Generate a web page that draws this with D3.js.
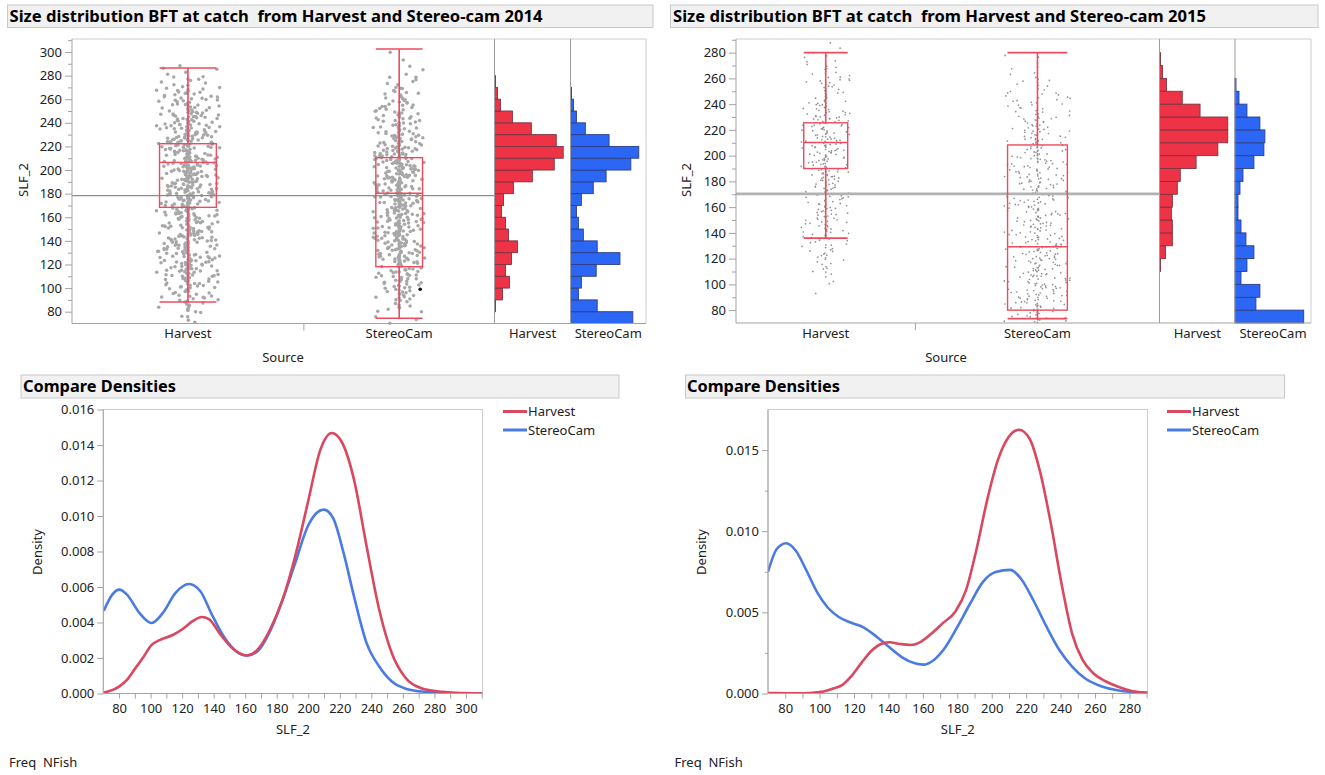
<!DOCTYPE html>
<html><head><meta charset="utf-8">
<script src="https://cdn.jsdelivr.net/npm/d3@7"></script>
<style>
body{margin:0;background:#fff;}
text{font-family:"Noto Sans","Open Sans",sans-serif;}
</style></head><body>
<svg id="c" width="1325" height="775"></svg>
<script>
// ---------------- DATA ----------------
const categories = ["Harvest", "StereoCam"];

// tick labels
const yTicks2014 = [80,100,120,140,160,180,200,220,240,260,280,300];
const yTicks2015 = [80,100,120,140,160,180,200,220,240,260,280];
const densXTicks2014 = [80,100,120,140,160,180,200,220,240,260,280,300];
const densXTicks2015 = [80,100,120,140,160,180,200,220,240,260,280];
const densYTicks2014 = [0,0.002,0.004,0.006,0.008,0.010,0.012,0.014,0.016];
const densYTicks2015 = [0,0.005,0.010,0.015];

// histogram bins (lower edge, width 10)
const binLow2014 = [70,80,90,100,110,120,130,140,150,160,170,180,190,200,210,220,230,240,250,260,270,280,290];
const binLow2015 = [70,80,90,100,110,120,130,140,150,160,170,180,190,200,210,220,230,240,250,260,270,280];

// weighted histogram counts (Freq NFish)
const histHarvest2014 = [0,1,8,15,11,17,23,14,11,7,9,19,38,60,69,62,37,18,6,3,1,0,0];
const histStereo2014  = [63,27,8,11,26,50,27,13,8,6,11,23,36,61,69,39,15,6,3,1,0,0,0];
const histHarvest2015 = [0,0,0,0,1,6,13,13,12,13,18,21,37,59,69,69,41,23,7,3,1,0];
const histStereo2015  = [69,21,25,6,12,19,11,6,3,3,5,8,19,29,30,25,12,4,1,0,0,0];

// number of jittered records per bin
const dotsHarvest2014 = [5,12,18,26,35,35,35,35,35,35,40,40,40,40,40,40,35,30,24,20,10,5,0];
const dotsStereo2014  = [4,9,16,20,22,30,32,32,32,32,36,38,38,38,33,28,23,20,16,11,7,3,2];
const dotsHarvest2015 = [0,0,1,5,9,12,15,18,20,22,23,25,26,27,27,25,23,20,16,11,6,2];
const dotsStereo2015  = [20,28,28,28,28,28,25,25,25,25,25,25,25,25,22,20,18,15,10,5,3,0];

// box plot stats: [lowerWhisker, q1, median, q3, upperWhisker]
const boxHarvest2014 = [88.2, 168.4, 206.5, 222.3, 286.4];
const boxStereo2014  = [74.4, 118.1, 180.3, 210.5, 302.5];
const boxHarvest2015 = [135.9, 190, 210.2, 225.5, 280];
const boxStereo2015  = [73.4, 80, 129.2, 208.3, 280];
const grandMean2014 = 178.3;
const grandMean2015 = 170.3;
const outlierStereo2014 = [99];

// density curves [SLF_2, density]
const densHarvest2014 = [[70.5,0.00005],[80,0.00039],[85,0.00077],[90.4,0.00143],[95.7,0.00209],[100.5,0.00272],[106.4,0.00304],[114.4,0.00331],[121,0.00368],[126.4,0.00406],[132.5,0.00431],[137,0.00419],[143.7,0.0034],[151.7,0.00256],[161,0.00214],[167.7,0.00246],[175.7,0.00359],[183.7,0.00528],[191.7,0.00773],[199.7,0.01074],[207.7,0.01374],[214.9,0.01468],[221,0.01421],[229,0.01205],[237,0.00829],[245,0.00472],[253,0.00227],[261,0.00096],[271.7,0.0003],[285,0.00009],[298,0.00002],[310.5,0]];
const densStereo2014 = [[70.3,0.00466],[75.7,0.00557],[80.3,0.00585],[85,0.00557],[93,0.00453],[100.5,0.00397],[107.7,0.00453],[115.7,0.00566],[124.3,0.00617],[131.7,0.00575],[138.4,0.00453],[146.4,0.00321],[154.4,0.00237],[161,0.00214],[167.7,0.00237],[175.7,0.0035],[183.7,0.00528],[191.7,0.00735],[199.7,0.00942],[209.9,0.01036],[215.7,0.00989],[222.4,0.00792],[229,0.00547],[237,0.00284],[245,0.00152],[253,0.00068],[261,0.0003],[271.7,0.00011],[285,0.00004],[310.5,0]];
const densHarvest2015 = [[70,0.00003],[81,0.00002],[91,0.00001],[101,0.0001],[108.4,0.00033],[113.3,0.00053],[118.3,0.00105],[124.4,0.0019],[130.6,0.00268],[135.6,0.00305],[140.5,0.00316],[146.7,0.00305],[152.8,0.00299],[159,0.0032],[165.2,0.00371],[171.4,0.00432],[178.8,0.00504],[185,0.00635],[191,0.00881],[197.3,0.0119],[203.5,0.01436],[209.6,0.01578],[215.8,0.01625],[222,0.0157],[228,0.0137],[234.3,0.0105],[240.5,0.0068],[246.7,0.00369],[252.8,0.00207],[259,0.00125],[266.4,0.00074],[273.8,0.0004],[281.2,0.00016],[290.5,0.00004]];
const densStereo2015 = [[70,0.0075],[75,0.00889],[80.5,0.00926],[86.2,0.0088],[92.3,0.00758],[98.5,0.00625],[104.7,0.0053],[110.9,0.00473],[118.3,0.00436],[125.7,0.00406],[133.1,0.0035],[140.5,0.00285],[147.9,0.00223],[155.3,0.00186],[160.2,0.00178],[166.4,0.00207],[172.6,0.00279],[180,0.0041],[187.4,0.00553],[194.8,0.00686],[202.2,0.00748],[210.9,0.00762],[217,0.00707],[224.4,0.0057],[231.9,0.0041],[239.3,0.00268],[246.7,0.00166],[254.1,0.00094],[264,0.00043],[273.8,0.00018],[290.5,0.00004]];

// ---------------- STYLE / LAYOUT ----------------
const RED_BOX = "#ef4a5e", RED_FILL = "#ee3347", RED_STROKE = "#7a3440";
const BLUE_FILL = "#2c66f4", BLUE_STROKE = "#2e3f88";
const RED_LINE = "#d9485e", BLUE_LINE = "#4b7be2";
const AXIS = "#a3a3a3", FRAME = "#cdcdcd", TXT = "#222";

const svg = d3.select("#c");

// deterministic jitter hash (layout only)
function hash(n){ const v = Math.sin(n*12.9898 + 78.233)*43758.5453; return v - Math.floor(v); }

function axisStyle(g){
  g.select(".domain").remove();
  g.selectAll(".tick line").attr("stroke", AXIS);
  g.selectAll(".tick text").attr("fill", TXT).style("font-size","13px")
   .style("font-family",'"Noto Sans","Open Sans",sans-serif');
}

function titleBar(x, y, w, h, label, tx, ty, tlen, size){
  svg.append("rect").attr("x",x).attr("y",y).attr("width",w).attr("height",h)
    .attr("fill","#f1f1f1").attr("stroke","#c9c9c9");
  svg.append("text").attr("x",tx).attr("y",ty).text(label)
    .style("font-weight","bold").style("font-size",size+"px").style("white-space","pre")
    .attr("textLength",tlen).attr("lengthAdjust","spacingAndGlyphs").attr("fill","#000");
}

function drawTop(cfg){
  titleBar(cfg.tb[0],cfg.tb[1],cfg.tb[2],cfg.tb[3],cfg.title,cfg.tx,22,533,15.5);
  const y = d3.scaleLinear().domain(cfg.yDomain).range([cfg.y1, cfg.y0]);

  // bands proportional to number of records
  const totals = cfg.dots.map(d => d3.sum(d));
  const cum = d3.cumsum([0, ...totals]);
  const bx = d3.scaleLinear().domain([0, cum[cum.length-1]]).range([cfg.x0, cfg.x1]);

  // frame
  svg.append("line").attr("x1",cfg.x0).attr("x2",cfg.h2).attr("y1",cfg.y0).attr("y2",cfg.y0).attr("stroke",FRAME);
  svg.append("line").attr("x1",cfg.h2).attr("x2",cfg.h2).attr("y1",cfg.y0).attr("y2",cfg.y1).attr("stroke",FRAME);

  const gDots = svg.append("g");
  const gMean = svg.append("g");
  const gBox = svg.append("g");
  let gi = cfg.seed;
  categories.forEach((cat, i) => {
    const left = bx(cum[i]), right = bx(cum[i+1]);
    const cx = (left + right)/2, bw = right - left;
    const boxW = bw*0.245, halfJ = boxW*0.56;
    // jittered records
    cfg.dots[i].forEach((c, k) => {
      const lo = cfg.bins[k];
      for (let j = 0; j < c; j++){
        gi++;
        const v = lo + 10*(j + hash(gi*3.1))/c;
        const s = 2*hash(gi) - 1;
        const dx = Math.sign(s)*Math.pow(Math.abs(s),2.1)*halfJ;
        gDots.append("circle").attr("cx", cx+dx).attr("cy", y(v)).attr("r", cfg.dotR).attr("fill", cfg.dotC);
      }
    });
    const b = cfg.box[i];
    const L = cx - boxW/2, R = cx + boxW/2;
    gBox.append("rect").attr("x",L).attr("y",y(b[3])).attr("width",boxW).attr("height",y(b[1])-y(b[3]))
      .attr("fill","none").attr("stroke",RED_BOX).attr("stroke-width",1.4);
    gBox.append("line").attr("x1",L).attr("x2",R).attr("y1",y(b[2])).attr("y2",y(b[2])).attr("stroke",RED_BOX).attr("stroke-width",1.4);
    [[b[0],b[1]],[b[3],b[4]]].forEach(p => gBox.append("line").attr("x1",cx).attr("x2",cx)
      .attr("y1",y(p[0])).attr("y2",y(p[1])).attr("stroke",RED_BOX).attr("stroke-width",1.6));
    [b[0],b[4]].forEach(v => gBox.append("line").attr("x1",L).attr("x2",R).attr("y1",y(v)).attr("y2",y(v))
      .attr("stroke",RED_BOX).attr("stroke-width",1.6));
    // category label
    svg.append("text").attr("x",cx).attr("y",338).attr("text-anchor","middle").text(cat)
      .style("font-size","13px").attr("fill",TXT);
    if (i === 0) {
      svg.append("line").attr("x1",right).attr("x2",right).attr("y1",cfg.y1).attr("y2",cfg.y1+7).attr("stroke",AXIS);
    }
    if (cfg.outlier && i === 1) {
      cfg.outlier.forEach(v => gBox.append("circle").attr("cx", cx + boxW*0.45).attr("cy", y(v)).attr("r",1.8).attr("fill","#111"));
    }
  });
  // grand mean line
  gMean.append("line").attr("x1",cfg.x0).attr("x2",cfg.x1).attr("y1",y(cfg.mean)).attr("y2",y(cfg.mean))
    .attr("stroke",cfg.meanC).attr("stroke-width",cfg.meanW);

  // histograms
  const panels = [[cfg.x1, cfg.h1, cfg.hist[0], RED_FILL, RED_STROKE], [cfg.h1, cfg.h2, cfg.hist[1], BLUE_FILL, BLUE_STROKE]];
  panels.forEach((p, i) => {
    const xs = d3.scaleLinear().domain([0, d3.max(p[2])/0.904]).range([p[0], p[1]]);
    svg.append("g").selectAll("rect").data(p[2].map((c,k)=>({c, lo: cfg.bins[k]})).filter(d=>d.c>0))
      .join("rect").attr("x", p[0]).attr("y", d => y(d.lo+10)).attr("width", d => xs(d.c)-p[0])
      .attr("height", d => y(d.lo)-y(d.lo+10)).attr("fill", p[3]).attr("stroke", p[4]).attr("stroke-width",0.9);
    svg.append("text").attr("x",(p[0]+p[1])/2).attr("y",338).attr("text-anchor","middle").text(categories[i])
      .style("font-size","13px").attr("fill",TXT);
  });
  // separators + axes lines
  [cfg.x1, cfg.h1].forEach(x => svg.append("line").attr("x1",x).attr("x2",x).attr("y1",cfg.y0).attr("y2",cfg.y1).attr("stroke","#9d9d9d"));
  svg.append("line").attr("x1",cfg.x0).attr("x2",cfg.x0).attr("y1",cfg.y0).attr("y2",cfg.y1).attr("stroke",AXIS);
  svg.append("line").attr("x1",cfg.x0).attr("x2",cfg.h2).attr("y1",cfg.y1).attr("y2",cfg.y1).attr("stroke",AXIS);

  // y axis
  svg.append("g").attr("transform",`translate(${cfg.x0},0)`)
    .call(d3.axisLeft(y).tickValues(cfg.yTicks).tickSize(7).tickPadding(3)).call(axisStyle);
  const minor = cfg.yTicks.map(t => t + 10).filter(t => t < cfg.yDomain[1]);
  svg.append("g").attr("transform",`translate(${cfg.x0},0)`)
    .call(d3.axisLeft(y).tickValues(minor).tickSize(4).tickFormat("")).call(axisStyle);

  svg.append("text").attr("transform",`translate(${cfg.ylx},180) rotate(-90)`).attr("text-anchor","middle")
    .text("SLF_2").style("font-size","13px").attr("fill",TXT);
  svg.append("text").attr("x",cfg.srcX).attr("y",362).attr("text-anchor","middle").text("Source")
    .style("font-size","13px").attr("fill",TXT);
}

function drawDensity(cfg){
  titleBar(cfg.tb[0],375,cfg.tb[1],23,"Compare Densities",cfg.tx,392,153,15.5);
  const x = d3.scaleLinear().domain(cfg.xDomain).range([cfg.x0, cfg.x1]);
  const y = d3.scaleLinear().domain(cfg.yDomain).range([cfg.y1, cfg.y0]);
  svg.append("rect").attr("x",cfg.x0).attr("y",cfg.y0).attr("width",cfg.x1-cfg.x0).attr("height",cfg.y1-cfg.y0)
    .attr("fill","none").attr("stroke",FRAME);
  const clipId = "clip" + cfg.id;
  svg.append("clipPath").attr("id",clipId).append("rect").attr("x",cfg.x0).attr("y",cfg.y0-3)
    .attr("width",cfg.x1-cfg.x0).attr("height",cfg.y1-cfg.y0+3);
  const line = d3.line().x(d=>x(d[0])).y(d=>y(d[1])).curve(d3.curveMonotoneX);
  const gl = svg.append("g").attr("clip-path",`url(#${clipId})`);
  gl.append("path").attr("d", line(cfg.dens[1])).attr("fill","none").attr("stroke",BLUE_LINE).attr("stroke-width",2.6);
  gl.append("path").attr("d", line(cfg.dens[0])).attr("fill","none").attr("stroke",RED_LINE).attr("stroke-width",2.6);

  svg.append("line").attr("x1",cfg.x0).attr("x2",cfg.x0).attr("y1",cfg.y0).attr("y2",cfg.y1).attr("stroke",AXIS);
  svg.append("line").attr("x1",cfg.x0).attr("x2",cfg.x1).attr("y1",cfg.y1).attr("y2",cfg.y1).attr("stroke",AXIS);

  svg.append("g").attr("transform",`translate(${cfg.x0},0)`)
    .call(d3.axisLeft(y).tickValues(cfg.yTicks).tickSize(6).tickPadding(3).tickFormat(d3.format(cfg.yFmt))).call(axisStyle);
  if (cfg.yMinor) svg.append("g").attr("transform",`translate(${cfg.x0},0)`)
    .call(d3.axisLeft(y).tickValues(cfg.yMinor).tickSize(3).tickFormat("")).call(axisStyle);
  svg.append("g").attr("transform",`translate(0,${cfg.y1})`)
    .call(d3.axisBottom(x).tickValues(cfg.xTicks).tickSize(5).tickPadding(5)).call(axisStyle);
  svg.append("g").attr("transform",`translate(0,${cfg.y1})`)
    .call(d3.axisBottom(x).tickValues(cfg.xTicks.map(t=>t+10).filter(t=>t<cfg.xDomain[1])).tickSize(5).tickFormat("")).call(axisStyle);

  svg.append("text").attr("x",(cfg.x0+cfg.x1)/2).attr("y",734).attr("text-anchor","middle").text("SLF_2")
    .style("font-size","13px").attr("fill",TXT);
  svg.append("text").attr("transform",`translate(${cfg.dlx},552) rotate(-90)`).attr("text-anchor","middle")
    .text("Density").style("font-size","13px").attr("fill",TXT);

  [[categories[0],RED_LINE,411.5],[categories[1],BLUE_LINE,430]].forEach(l => {
    svg.append("line").attr("x1",cfg.lx).attr("x2",cfg.lx+24).attr("y1",l[2]).attr("y2",l[2]).attr("stroke",l[1]).attr("stroke-width",3);
    svg.append("text").attr("x",cfg.lx+25).attr("y",l[2]+4.5).text(l[0]).style("font-size","13px").attr("fill",TXT);
  });
  svg.append("text").attr("x",cfg.fx).attr("y",767).text("Freq  NFish").style("white-space","pre")
    .style("font-size","13px").attr("fill",TXT);
}

drawTop({title:"Size distribution BFT at catch  from Harvest and Stereo-cam 2014", tb:[7.5,5,645.5,22.5], tx:9.5,
  x0:72, x1:494.5, h1:570.5, h2:646, y0:39, y1:323.5, yDomain:[70,311], yTicks:yTicks2014,
  bins:binLow2014, dots:[dotsHarvest2014,dotsStereo2014], box:[boxHarvest2014,boxStereo2014],
  hist:[histHarvest2014,histStereo2014], mean:grandMean2014, meanC:"#8e8e8e", meanW:1.3,
  dotR:1.75, dotC:"#a7a7a7", outlier:outlierStereo2014, ylx:28, srcX:283, seed:0});

drawTop({title:"Size distribution BFT at catch  from Harvest and Stereo-cam 2015", tb:[670.5,5,647.5,22.5], tx:673,
  x0:736, x1:1159.5, h1:1235, h2:1311, y0:39, y1:323, yDomain:[70,290.6], yTicks:yTicks2015,
  bins:binLow2015, dots:[dotsHarvest2015,dotsStereo2015], box:[boxHarvest2015,boxStereo2015],
  hist:[histHarvest2015,histStereo2015], mean:grandMean2015, meanC:"#b2b2b2", meanW:2.6,
  dotR:0.85, dotC:"#8f8f8f", outlier:null, ylx:691, srcX:946, seed:5000});

drawDensity({id:"a", tb:[21,598], tx:23, x0:103.3, x1:482.5, y0:409.5, y1:693.5, xDomain:[70,310.5], yDomain:[0,0.016],
  xTicks:densXTicks2014, yTicks:densYTicks2014, yFmt:".3f", yMinor:null,
  dens:[densHarvest2014,densStereo2014], dlx:42, lx:503, fx:9});

drawDensity({id:"b", tb:[685.5,599], tx:687, x0:768, x1:1147.5, y0:409.5, y1:693.5, xDomain:[70,290.5], yDomain:[0,0.0175],
  xTicks:densXTicks2015, yTicks:densYTicks2015, yFmt:".3f", yMinor:[0.0025,0.0075,0.0125],
  dens:[densHarvest2015,densStereo2015], dlx:706, lx:1167, fx:674.5});
</script>
</body></html>
